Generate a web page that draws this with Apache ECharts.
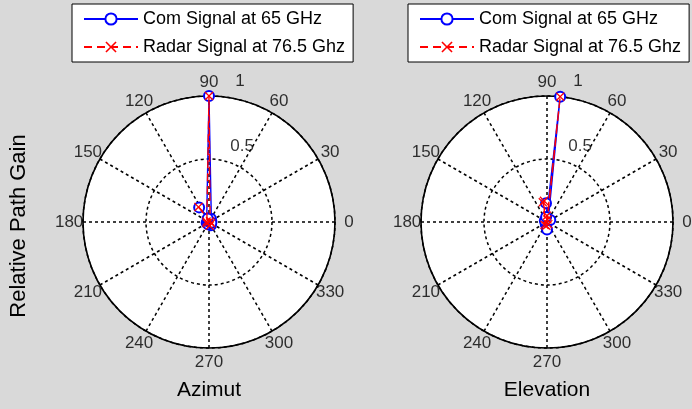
<!DOCTYPE html>
<html><head><meta charset="utf-8">
<script src="https://cdn.jsdelivr.net/npm/echarts@6/dist/echarts.min.js"></script>
<style>html,body{margin:0;padding:0;background:#d9d9d9}#c{width:692px;height:409px}</style>
</head><body><div id="c"></div>
<script>
// ---- data ----
const seriesNames = ['Com Signal at 65 GHz', 'Radar Signal at 76.5 Ghz'];
const panelTitles = ['Azimut', 'Elevation'];
const yTitle = 'Relative Path Gain';
const angleTicks = [0, 30, 60, 90, 120, 150, 180, 210, 240, 270, 300, 330];
const ringTicks = ['0.5', '1'];
// each point: [relative gain (radius), angle in degrees]
const azCom   = [[0.14, 124], [0.02, 20], [1, 90], [0.02, 200], [0.03, 300], [0.02, 250], [0.01, 150], [0.03, 60], [0.02, 340], [0.03, 110]];
const azRadar = [[0.145, 125], [0.01, 30], [1, 90], [0.02, 210], [0.03, 280], [0.02, 170], [0.02, 330]];
const elCom   = [[0.15, 93], [0.02, 60], [1, 84], [0.02, 240], [0.06, 270], [0.02, 150], [0.03, 30], [0.04, 100]];
const elRadar = [[0.16, 102], [0.02, 80], [1, 84], [0.03, 260], [0.02, 300], [0.05, 90], [0.03, 230], [0.17, 98]];

const FONT = 'Liberation Sans, Arial, sans-serif';
const xPath = 'path://M0,1L1,0L5,4L9,0L10,1L6,5L10,9L9,10L5,6L1,10L0,9L4,5Z';
const centers = [[209, 222], [547, 222]];
const R = 126;

const chart = echarts.init(document.getElementById('c'), null, {renderer: 'canvas'});

const polar = centers.map(c => ({center: c, radius: R}));
const angleAxis = centers.map((c, i) => ({
  polarIndex: i, type: 'value', min: 0, max: 360, interval: 30, startAngle: 0, clockwise: false,
  axisLine: {lineStyle: {color: '#000', width: 1.6}},
  axisTick: {show: false}, axisLabel: {show: false},
  splitLine: {show: true, lineStyle: {color: '#000', width: 1.5, type: [3, 3]}}
}));
const radiusAxis = centers.map((c, i) => ({
  polarIndex: i, type: 'value', min: 0, max: 1, interval: 0.5,
  axisLine: {show: false}, axisTick: {show: false}, axisLabel: {show: false},
  splitLine: {show: true, lineStyle: {color: '#000', width: 1.5, type: [3, 3]}}
}));

function discSeries(i) {
  return {type: 'pie', silent: true, z: -1, center: centers[i], radius: R,
    data: [{value: 1, name: ''}], label: {show: false}, labelLine: {show: false},
    itemStyle: {color: '#fff', borderWidth: 0}, emphasis: {disabled: true}};
}
function comSeries(data, i) {
  return {name: seriesNames[0], type: 'line', coordinateSystem: 'polar', polarIndex: i, data: data,
    symbol: 'emptyCircle', symbolSize: 10, showAllSymbol: true, clip: false,
    lineStyle: {color: '#0000ff', width: 1.4}, itemStyle: {color: '#0000ff', borderColor: '#0000ff', borderWidth: 1.2}, z: 3};
}
function radarSeries(data, i) {
  return {name: seriesNames[1], type: 'line', coordinateSystem: 'polar', polarIndex: i, data: data,
    symbol: xPath, symbolSize: 9, showAllSymbol: true, clip: false,
    lineStyle: {color: '#ff0000', width: 1.4, type: [8, 5]}, itemStyle: {color: '#ff0000'}, z: 4};
}
function tickLabelSeries(i) {
  return {type: 'scatter', coordinateSystem: 'polar', polarIndex: i, silent: true, clip: false,
    data: angleTicks.map(a => [1.11, a]), symbol: 'circle', symbolSize: 1,
    itemStyle: {color: 'rgba(0,0,0,0)'},
    label: {show: true, position: 'inside', color: '#000', fontSize: 17, fontFamily: FONT,
      formatter: p => String(p.value[1])}, z: 5};
}
function ringLabelSeries(i) {
  return {type: 'scatter', coordinateSystem: 'polar', polarIndex: i, silent: true, clip: false,
    data: [[0.658, 66.5], [1.146, 77.6]], symbol: 'circle', symbolSize: 1,
    itemStyle: {color: 'rgba(0,0,0,0)'},
    label: {show: true, position: 'inside', color: '#000', fontSize: 17, fontFamily: FONT,
      formatter: p => ringTicks[p.dataIndex]}, z: 5};
}

const legendBase = {
  orient: 'vertical', top: 4, data: seriesNames,
  itemWidth: 54, itemHeight: 14, itemGap: 10,
  padding: [6, 8, 6, 11],
  backgroundColor: '#fff', borderColor: '#000', borderWidth: 1,
  textStyle: {color: '#000', fontSize: 18, fontFamily: FONT}
};

const graphics = panelTitles.map((t, i) => ({type: 'text', x: centers[i][0], y: 390,
  style: {text: t, align: 'center', verticalAlign: 'middle', fill: '#000', font: '21px ' + FONT}}));
graphics.push({type: 'text', x: 19, y: 226, rotation: Math.PI / 2,
  style: {text: yTitle, align: 'center', verticalAlign: 'middle', fill: '#000', font: '22px ' + FONT}});

chart.setOption({
  animation: false,
  backgroundColor: '#d9d9d9',
  polar: polar,
  angleAxis: angleAxis,
  radiusAxis: radiusAxis,
  legend: [Object.assign({left: 72}, legendBase), Object.assign({left: 408}, legendBase)],
  graphic: graphics,
  series: [
    discSeries(0), discSeries(1),
    comSeries(azCom, 0), radarSeries(azRadar, 0),
    comSeries(elCom, 1), radarSeries(elRadar, 1),
    tickLabelSeries(0), tickLabelSeries(1), ringLabelSeries(0), ringLabelSeries(1)
  ]
});
</script></body></html>
